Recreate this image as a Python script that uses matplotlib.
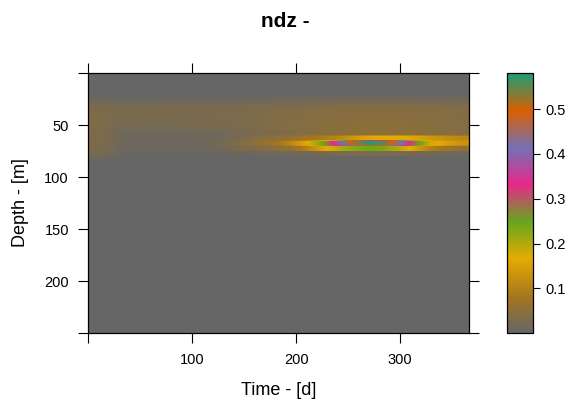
import numpy as np
import matplotlib
matplotlib.use("Agg")
import matplotlib.pyplot as plt
from matplotlib.colors import LinearSegmentedColormap

plt.rcParams['font.family'] = ['Liberation Sans', 'DejaVu Sans']

# Data
# time nodes (days), every 15 d
days = [0, 15, 30, 45, 60, 75, 90, 105, 120, 135, 150, 165, 180,
        195, 210, 225, 240, 255, 270, 285, 300, 315, 330, 345, 360]

# top of each 5 m depth cell that holds non-zero values
band_tops = [20, 25, 30, 35, 40, 45, 50, 55, 60, 65, 70, 75, 80]

ndz_band = [
    # 20-25 m
    [0.005, 0.005, 0.004, 0.004, 0.004, 0.004, 0.004, 0.004, 0.004, 0.004, 0.005, 0.005, 0.006,
     0.007, 0.007, 0.008, 0.008, 0.008, 0.008, 0.008, 0.008, 0.008, 0.008, 0.008, 0.008],
    # 25-30 m
    [0.014, 0.014, 0.012, 0.012, 0.012, 0.012, 0.012, 0.012, 0.012, 0.012, 0.014, 0.015, 0.017,
     0.018, 0.020, 0.021, 0.021, 0.021, 0.021, 0.021, 0.021, 0.021, 0.021, 0.021, 0.020],
    # 30-35 m
    [0.028, 0.026, 0.024, 0.024, 0.024, 0.025, 0.025, 0.025, 0.025, 0.025, 0.027, 0.028, 0.029,
     0.031, 0.032, 0.034, 0.035, 0.035, 0.035, 0.035, 0.035, 0.035, 0.035, 0.034, 0.032],
    # 35-40 m
    [0.031, 0.029, 0.025, 0.025, 0.025, 0.026, 0.026, 0.026, 0.026, 0.028, 0.029, 0.031, 0.034,
     0.035, 0.037, 0.039, 0.041, 0.042, 0.042, 0.042, 0.042, 0.041, 0.039, 0.038, 0.036],
    # 40-45 m
    [0.033, 0.031, 0.025, 0.025, 0.025, 0.026, 0.026, 0.026, 0.028, 0.029, 0.031, 0.034, 0.035,
     0.037, 0.040, 0.042, 0.044, 0.046, 0.046, 0.046, 0.046, 0.044, 0.042, 0.041, 0.039],
    # 45-50 m
    [0.034, 0.032, 0.024, 0.024, 0.024, 0.024, 0.025, 0.026, 0.027, 0.029, 0.031, 0.034, 0.036,
     0.039, 0.042, 0.045, 0.047, 0.048, 0.049, 0.049, 0.048, 0.047, 0.045, 0.043, 0.041],
    # 50-55 m
    [0.034, 0.031, 0.020, 0.019, 0.019, 0.019, 0.020, 0.022, 0.024, 0.026, 0.029, 0.032, 0.034,
     0.037, 0.041, 0.043, 0.046, 0.048, 0.049, 0.049, 0.048, 0.046, 0.044, 0.042, 0.040],
    # 55-60 m
    [0.032, 0.028, 0.014, 0.011, 0.011, 0.011, 0.011, 0.012, 0.014, 0.017, 0.022, 0.027, 0.031,
     0.035, 0.039, 0.043, 0.046, 0.049, 0.050, 0.050, 0.049, 0.048, 0.046, 0.044, 0.042],
    # 60-65 m
    [0.032, 0.028, 0.014, 0.010, 0.010, 0.010, 0.010, 0.011, 0.013, 0.018, 0.030, 0.040, 0.050,
     0.060, 0.075, 0.090, 0.110, 0.135, 0.160, 0.170, 0.170, 0.155, 0.135, 0.120, 0.110],
    # 65-70 m
    [0.032, 0.028, 0.014, 0.010, 0.010, 0.010, 0.010, 0.011, 0.014, 0.025, 0.040, 0.055, 0.075,
     0.110, 0.160, 0.240, 0.370, 0.510, 0.580, 0.550, 0.430, 0.280, 0.180, 0.150, 0.130],
    # 70-75 m
    [0.032, 0.027, 0.012, 0.008, 0.008, 0.008, 0.008, 0.009, 0.011, 0.020, 0.030, 0.035, 0.045,
     0.060, 0.100, 0.150, 0.195, 0.225, 0.245, 0.235, 0.195, 0.150, 0.100, 0.075, 0.060],
    # 75-80 m
    [0.025, 0.021, 0.008, 0.005, 0.005, 0.005, 0.005, 0.005, 0.005, 0.007, 0.008, 0.010, 0.011,
     0.014, 0.018, 0.021, 0.023, 0.025, 0.025, 0.025, 0.023, 0.021, 0.018, 0.014, 0.013],
    # 80-85 m
    [0.010, 0.008, 0.003, 0.000, 0.000, 0.000, 0.000, 0.000, 0.000, 0.000, 0.000, 0.000, 0.000,
     0.000, 0.000, 0.000, 0.000, 0.000, 0.000, 0.000, 0.000, 0.000, 0.000, 0.000, 0.000],
]

depth_max = 250
cell = 5

# full grid, zeros outside the band
grid = np.zeros((depth_max // cell, len(days)))
for top, row in zip(band_tops, ndz_band):
    grid[top // cell, :] = row
# 1 m sub-rows so the smoothing stays inside each 5 m cell
grid = np.repeat(grid, cell, axis=0)

cols = ['#666666', '#A6761D', '#E6AB02', '#66A61E',
        '#E7298A', '#7570B3', '#D95F02', '#1B9E77']
cmap = LinearSegmentedColormap.from_list('dark2_rev', cols, N=256)

W, H = 571, 405
fig = plt.figure(figsize=(W / 100, H / 100), dpi=100)

ax = fig.add_axes([88.4 / W, 1 - 333.3 / H, (469.3 - 88.4) / W, (333.3 - 73.3) / H])
step = days[1] - days[0]
im = ax.imshow(grid, cmap=cmap, vmin=0, vmax=0.58, aspect='auto',
               interpolation='bilinear', interpolation_stage='data',
               origin='upper',
               extent=[days[0] - step / 2, days[-1] + step / 2, depth_max, 0])
ax.set_xlim(0, 366.5)
ax.set_ylim(250, 0)

ax.set_xticks([0, 100, 200, 300])
ax.set_xticklabels(['', '100', '200', '300'])
ax.set_yticks([0, 50, 100, 150, 200, 250])
ax.set_yticklabels(['', '50', '100', '150', '200', ''])
ax.tick_params(direction='out', length=7, width=0.8, pad=7, labelsize=10.5,
               top=True, right=True, labeltop=False, labelright=False)
for s in ax.spines.values():
    s.set_linewidth(0.9)

cax = fig.add_axes([506.6 / W, 1 - 333.3 / H, (533.3 - 506.6) / W, (333.3 - 73.3) / H])
cb = fig.colorbar(im, cax=cax)
cb.set_ticks([0.1, 0.2, 0.3, 0.4, 0.5])
cb.set_ticklabels(['0.1', '0.2', '0.3', '0.4', '0.5'])
cb.ax.tick_params(direction='out', length=5, width=0.8, pad=4, labelsize=10.5)
cb.outline.set_linewidth(0.9)

fig.text(285.5 / W, 1 - 26.7 / H, 'ndz -', ha='center', va='baseline',
         fontsize=15, fontweight='bold')
fig.text(278.8 / W, 1 - 395 / H, 'Time - [d]', ha='center', va='baseline', fontsize=13)
fig.text(21 / W, 1 - 203 / H, 'Depth - [m]', ha='center', va='center',
         rotation=90, fontsize=13)

fig.savefig('out.png', dpi=100)
